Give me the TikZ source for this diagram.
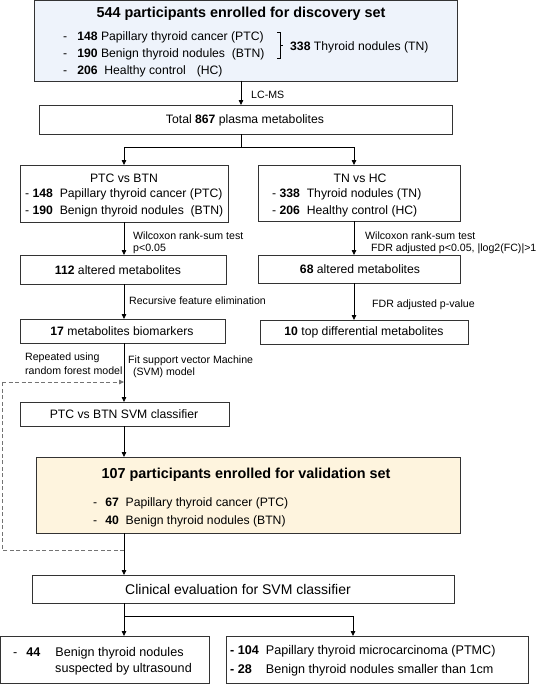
\documentclass[tikz,border=0pt]{standalone}
\usepackage{fontspec}
\setmainfont{Liberation Sans}
\usetikzlibrary{arrows.meta}
\newcommand\fsT{\fontsize{14.4}{17}\selectfont}
\newcommand\fsB{\fontsize{12.2}{15}\selectfont}
\newcommand\fsL{\fontsize{10.6}{12.5}\selectfont}
\newcommand\fsC{\fontsize{14}{17}\selectfont}
\newcommand\fsD{\fontsize{12.6}{15}\selectfont}
\definecolor{blueFill}{HTML}{EEF3FB}
\definecolor{yelFill}{HTML}{FEF4DE}
\definecolor{edge}{HTML}{333333}
\begin{document}
\begin{tikzpicture}[x=1pt,y=-1pt,
  frame/.style={draw=edge,line width=0.9pt,inner sep=0pt},
  txt/.style={inner sep=0pt,font=\fsB},
  lbl/.style={inner sep=0pt,font=\fsL,anchor=west},
  itm/.style={inner sep=0pt,font=\fsB,anchor=west},
  itmD/.style={inner sep=0pt,font=\fsD,anchor=west},
  arr/.style={draw=black,line width=0.8pt,-{Triangle[length=5pt,width=4.5pt]}},
  ln/.style={draw=black,line width=0.8pt},
  dsh/.style={draw=black!55,line width=0.8pt,dash pattern=on 4pt off 2.5pt}]
\useasboundingbox (0,0) rectangle (545,685);
\fill[white] (0,0) rectangle (545,685);

% Box 1
\node[frame,fill=blueFill,minimum width=423pt,minimum height=80pt,anchor=north west] (b1) at (34,0.5) {};
\node[txt,font=\fsT\bfseries] (b1t) at (241,14) {544 participants enrolled for discovery set};
\node[itm] (b1a) at (63,37) {-\hspace{10pt}\textbf{148} Papillary thyroid cancer (PTC)};
\node[itm] (b1b) at (63,54) {-\hspace{10pt}\textbf{190} Benign thyroid nodules\ \ (BTN)};
\node[itm] (b1c) at (63,71) {-\hspace{10pt}\textbf{206}\ \ Healthy control\hspace{11pt}(HC)};
\draw[ln,line width=0.7pt] (277,32) -- (280,32) -- (280,58) -- (277,58) (280,45) -- (283,45);
\node[itm] (b1d) at (290,47) {\textbf{338} Thyroid nodules (TN)};

% Box 2
\node[frame,minimum width=413pt,minimum height=29pt,anchor=north west] (b2) at (39,105) {};
\node[txt] (b2t) at (245,120) {Total \textbf{867} plasma metabolites};
\draw[arr] (241,80.5) -- (241,105);
\node[lbl] (lcms) at (251,95) {LC-MS};

% branch
\coordinate (br) at (241,147);
\draw[ln] (241,134) -- (br);
\draw[arr] (br) -| (124,165);
\draw[arr] (br) -| (354,165);

% PTC vs BTN
\node[frame,minimum width=208pt,minimum height=57pt,anchor=north west] (pb) at (20,165) {};
\node[txt] (pbt) at (124,178) {PTC vs BTN};
\node[itm] (pba) at (25,194) {- \textbf{148}\ \ Papillary thyroid cancer (PTC)};
\node[itm] (pbb) at (25,211) {- \textbf{190}\ \ Benign thyroid nodules\ \ (BTN)};
% TN vs HC
\node[frame,minimum width=202pt,minimum height=56pt,anchor=north west] (th) at (258,165) {};
\node[txt] (tht) at (360,178) {TN vs HC};
\node[itm] (tha) at (272,194) {- \textbf{338}\ \ Thyroid nodules (TN)};
\node[itm] (thb) at (272,211) {- \textbf{206}\ \ Healthy control (HC)};

% second row
\node[frame,minimum width=206pt,minimum height=29pt,anchor=north west] (m112) at (20,255) {};
\node[txt] (m112t) at (118,270) {\textbf{112} altered metabolites};
\node[frame,minimum width=202pt,minimum height=28pt,anchor=north west] (m68) at (258,255) {};
\node[txt] (m68t) at (360,269) {\textbf{68} altered metabolites};
\draw[arr] (124,222) -- (124,255);
\draw[arr] (354,221) -- (354,255);
\node[lbl] (w1) at (133,236) {Wilcoxon rank-sum test};
\node[lbl] (w2) at (133,249) {p<0.05};
\node[lbl] (w3) at (365,236) {Wilcoxon rank-sum test};
\node[lbl] (w4) at (371,249) {FDR adjusted p<0.05, |log2(FC)|>1};

% third row
\node[frame,minimum width=205pt,minimum height=24pt,anchor=north west] (m17) at (20,319) {};
\node[txt] (m17t) at (122,331) {\textbf{17} metabolites biomarkers};
\node[frame,minimum width=208pt,minimum height=24pt,anchor=north west] (m10) at (260,320) {};
\node[txt] (m10t) at (364,332) {\textbf{10} top differential metabolites};
\draw[arr] (124,284) -- (124,319);
\draw[arr] (354,283) -- (354,320);
\node[lbl] (rfe) at (129,301) {Recursive feature elimination};
\node[lbl] (fdr) at (372,305) {FDR adjusted p-value};

% SVM classifier
\node[frame,minimum width=209pt,minimum height=24pt,anchor=north west] (svm) at (20,402) {};
\node[txt] (svmt) at (124,414) {PTC vs BTN SVM classifier};
\draw[arr] (124,343) -- (124,402);
\node[lbl] (r1) at (25,358) {Repeated using};
\node[lbl] (r2) at (25,371) {random forest model};
\node[lbl] (f1) at (128,361) {Fit support vector Machine};
\node[lbl] (f2) at (130,373) {\ (SVM) model};

% validation
\node[frame,fill=yelFill,minimum width=424pt,minimum height=76pt,anchor=north west] (val) at (36,457) {};
\node[txt,font=\fsT\bfseries] (valt) at (246,475) {107 participants enrolled for validation set};
\node[itm] (vala) at (93,503) {-\hspace{8pt}\textbf{67}\ \ Papillary thyroid cancer (PTC)};
\node[itm] (valb) at (93,521) {-\hspace{8pt}\textbf{40}\ \ Benign thyroid nodules (BTN)};
\draw[arr] (124,426) -- (124,457);

% clinical
\node[frame,minimum width=422pt,minimum height=28pt,anchor=north west] (cl) at (32,575) {};
\node[txt,font=\fsC] (clt) at (238,589) {Clinical evaluation for SVM classifier};
\draw[arr] (124,533) -- (124,575);

% dashed feedback
\coordinate (d0) at (2,550);
\coordinate (d1) at (2,382);
\draw[dsh] (124,550) -- (d0) -- (d1);
\draw[dsh,-{Triangle[length=5pt,width=4.5pt]}] (d1) -- (124,382);

% bottom branch
\coordinate (br2) at (124,616);
\draw[ln] (124,603) -- (br2);
\draw[arr] (br2) -- (124,636);
\draw[arr] (br2) -| (353,636);

\node[frame,minimum width=209pt,minimum height=47pt,anchor=north west] (bl) at (0,636) {};
\node[itmD] (bla) at (13,653) {-\hspace{9pt}\textbf{44}\hspace{15pt}Benign thyroid nodules};
\node[itmD] (blb) at (55,669) {suspected by ultrasound};
\node[frame,minimum width=302pt,minimum height=47pt,anchor=north west] (brx) at (226,636) {};
\node[itmD] (bra) at (230,651) {\textbf{-}\ \textbf{104}\ \ Papillary thyroid microcarcinoma (PTMC)};
\node[itmD] (brb) at (230,670) {\textbf{-}\ \textbf{28}\hspace{14pt}Benign thyroid nodules smaller than 1cm};
\end{tikzpicture}
\end{document}
